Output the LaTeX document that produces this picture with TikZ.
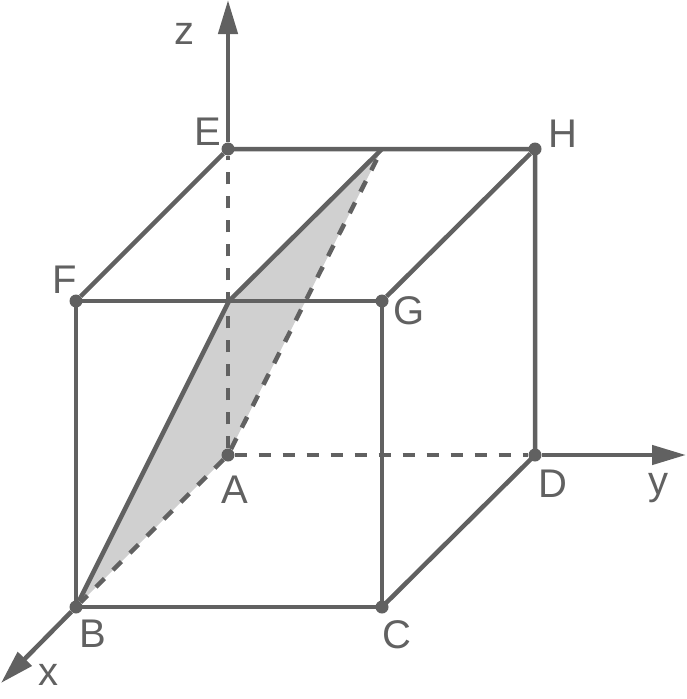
\documentclass[tikz,border=0pt]{standalone}
\usepackage{fontspec}
\setmainfont{Liberation Sans}
\usetikzlibrary{arrows.meta, backgrounds}
\definecolor{cubegray}{HTML}{616161}
\definecolor{planegray}{HTML}{D0D0D0}
\tikzset{dot/.style={fill=cubegray, inner sep=0pt, minimum size=13pt, circle},
  edge/.style={draw=cubegray, line width=4.5pt},
  hidden/.style={draw=cubegray, line width=4.5pt, dash pattern=on 12pt off 12pt},
  axis/.style={edge, -{Triangle[length=34pt, width=19pt]}},
  name label/.style={text=cubegray, inner sep=0pt, font=\fontsize{40}{42}\selectfont}}

\begin{document}
\begin{tikzpicture}[x=1pt, y=-1pt]
    \useasboundingbox (0,0) rectangle (686,699);
    \foreach \name/\x/\y in {A/228/455, B/76/607, C/382/607, D/535/455, E/228/149, F/76/301, G/382/301, H/535/149} {
      \node [dot] (\name) at (\x,\y) {};
    }
    \foreach \name/\x/\y in {A/235/490, B/93/634, C/397/635, D/553/484, E/208/132, F/65/280, G/409/311, H/563/134} {
      \node [name label] (label\name) at (\x,\y) {\name};
    }
    \node [name label] (labelx) at (48,675) {x};
    \node [name label] (labely) at (658,488) {y};
    \node [name label] (labelz) at (184,34) {z};
    \coordinate (topmid) at (382,149);
    \coordinate (frontmid) at (229,301);
    \coordinate (xtip) at (1,683);
    \coordinate (ytip) at (686,455);
    \coordinate (ztip) at (228,0);
    \begin{scope}[on background layer]
      \fill [planegray] (B.center) -- (frontmid) -- (topmid) -- (A.center) -- cycle;
      \draw [hidden] (A) -- (E);
      \draw [hidden] (A) -- (D);
      \draw [hidden] (A) -- (B);
      \draw [hidden] (A) -- (topmid);
      \draw [edge] (F.center) -- (G.center) -- (C.center) -- (B.center) -- cycle;
      \draw [edge] (E.center) -- (H.center) -- (D.center) -- (C.center);
      \draw [edge] (E) -- (F);
      \draw [edge] (H) -- (G);
      \draw [edge] (topmid) -- (frontmid) -- (B);
      \draw [axis] (E) -- (ztip);
      \draw [axis] (D) -- (ytip);
      \draw [axis] (B) -- (xtip);
    \end{scope}
  \end{tikzpicture}
\end{document}
